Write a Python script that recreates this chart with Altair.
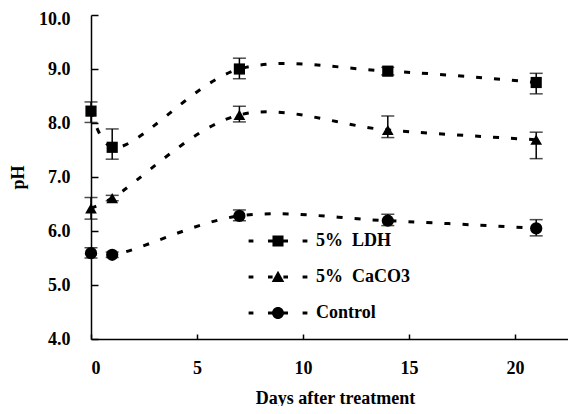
import altair as alt
import pandas as pd

days = [0, 1, 7, 14, 21]
series_names = ["5% LDH", "5% CaCO3", "Control"]

ldh = [8.22, 7.55, 9.00, 8.96, 8.75]
ldh_lo = [8.01, 7.33, 8.82, 8.89, 8.54]
ldh_hi = [8.39, 7.89, 9.20, 9.03, 8.92]

caco3 = [6.42, 6.61, 8.15, 7.87, 7.69]
caco3_lo = [6.22, 6.56, 8.02, 7.73, 7.34]
caco3_hi = [6.62, 6.66, 8.31, 8.13, 7.83]

control = [5.59, 5.56, 6.28, 6.19, 6.05]
control_lo = [5.50, 5.51, 6.19, 6.10, 5.91]
control_hi = [5.69, 5.61, 6.39, 6.31, 6.21]

x_ticks = [0, 5, 10, 15, 20]
y_ticks = [4, 5, 6, 7, 8, 9, 10]

rows = []
for name, v, lo, hi in [
    (series_names[0], ldh, ldh_lo, ldh_hi),
    (series_names[1], caco3, caco3_lo, caco3_hi),
    (series_names[2], control, control_lo, control_hi),
]:
    for d, a, b, c in zip(days, v, lo, hi):
        rows.append({"day": d, "pH": a, "lo": b, "hi": c, "series": name})
df = pd.DataFrame(rows)

W, H = 477, 324
FONT = "Liberation Serif"

xscale = alt.Scale(domain=[0, 22.5], nice=False, zero=False)
yscale = alt.Scale(domain=[4, 10], nice=False, zero=False)

x_axis = alt.Axis(values=x_ticks, format="d", ticks=False, grid=False,
                  labelPadding=20, title="Days after treatment",
                  titleX=244, titleY=64, titleBaseline="alphabetic", titleAlign="center")
y_axis = alt.Axis(values=y_ticks, format=".1f", ticks=False, grid=False,
                  labelPadding=21,
                  labelOffset={"condition": {"test": "datum.value == 10", "value": 4},
                               "value": 0},
                  title="pH", titleX=-73, titleY=H / 2,
                  titleAngle=270, titleAlign="center", titleBaseline="middle")

X = alt.X("day:Q", scale=xscale, axis=x_axis)
Yp = alt.Y("pH:Q", scale=yscale, axis=y_axis)

base = alt.Chart(df)

lines = base.mark_line(interpolate="catmull-rom", strokeDash=[6, 12],
                       strokeWidth=3, color="black").encode(
    x=X, y=Yp, detail="series:N")

err = base.mark_rule(color="black", strokeWidth=1.5).encode(
    x=X, y=alt.Y("lo:Q", scale=yscale, axis=y_axis), y2="hi:Q")
cap_lo = base.mark_tick(orient="horizontal", size=13, thickness=1.5, color="black").encode(
    x=X, y=alt.Y("lo:Q", scale=yscale, axis=y_axis))
cap_hi = base.mark_tick(orient="horizontal", size=13, thickness=1.5, color="black").encode(
    x=X, y=alt.Y("hi:Q", scale=yscale, axis=y_axis))

points = base.mark_point(filled=True, color="black", opacity=1).encode(
    x=X, y=Yp,
    shape=alt.Shape("series:N", scale=alt.Scale(domain=series_names,
                    range=["square", "triangle-up", "circle"]), legend=None),
    size=alt.Size("series:N", scale=alt.Scale(domain=series_names,
                  range=[125, 150, 115]), legend=None),
)

dash = ("M-4.9,-0.25L-4.1,-0.25L-4.1,0.25L-4.9,0.25Z"
        "M4.1,-0.25L4.9,-0.25L4.9,0.25L4.1,0.25Z"
        "M-1.67,-0.25L-0.9,-0.25L-0.9,0.25L-1.67,0.25Z"
        "M0.9,-0.25L1.67,-0.25L1.67,0.25L0.9,0.25Z")
sq = "M-0.92,-0.92L0.92,-0.92L0.92,0.92L-0.92,0.92Z"
tri = "M0,-1.05L1.05,0.85L-1.05,0.85Z"
circ = "M1,0A1,1 0 1,1 -1,0A1,1 0 1,1 1,0Z"
legend_paths = [dash + sq, dash + tri, dash + circ]

legend_layer = base.transform_filter("false").mark_point(
    filled=True, color="black", opacity=1).encode(
    x=X, y=Yp,
    shape=alt.Shape("series:N", scale=alt.Scale(domain=series_names, range=legend_paths),
                    legend=alt.Legend(orient="none", legendX=178, legendY=217, title=None,
                                      padding=0, symbolSize=144, symbolFillColor="black",
                                      symbolStrokeWidth=0, symbolOpacity=1,
                                      labelOffset=29, rowPadding=18,
                                      labelExpr="replace(datum.label, ' ', '\u00a0\u00a0')",
                                      labelFont=FONT, labelFontSize=18,
                                      labelFontWeight="bold", labelColor="black")),
)

inner = alt.layer(lines, err, cap_lo, cap_hi, points, legend_layer).resolve_scale(
    shape="independent", size="independent")

tick_layer = base.mark_point(opacity=0).encode(
    x=alt.X("day:Q", scale=xscale,
            axis=alt.Axis(orient="top", offset=-H, values=x_ticks, labels=False,
                          domain=False, ticks=True, tickSize=5, tickWidth=1.5,
                          tickColor="black", grid=False, title=None)),
    y=alt.Y("pH:Q", scale=yscale,
            axis=alt.Axis(orient="right", offset=-W, values=y_ticks, labels=False,
                          domain=False, ticks=True, tickSize=7, tickWidth=1.5,
                          tickColor="black", grid=False, title=None)),
)

chart = alt.layer(inner, tick_layer).resolve_axis(
    x="independent", y="independent"
).properties(
    width=W, height=H,
    autosize=alt.AutoSizeParams(type="none"),
    padding={"left": 83, "top": 7, "right": 0, "bottom": 67},
).configure(background="white").configure_view(stroke=None).configure_axis(
    labelFont=FONT, labelFontSize=18, labelFontWeight="bold", labelColor="black",
    titleFont=FONT, titleFontSize=18, titleFontWeight="bold", titleColor="black",
    domainColor="black", domainWidth=1.5,
)

chart.save("out.html", embed_options={"renderer": "svg", "actions": False})
